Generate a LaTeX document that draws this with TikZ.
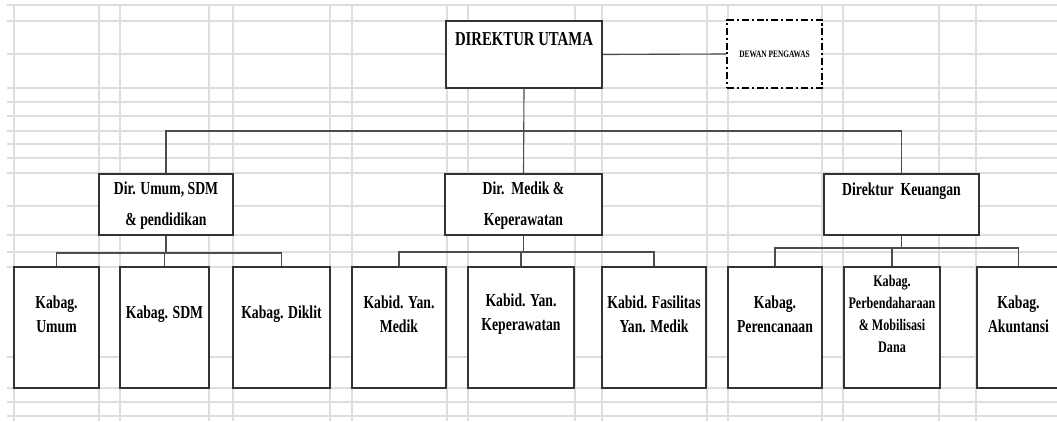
\documentclass[tikz,border=0pt]{standalone}
\usepackage{fontspec}
\setmainfont{Liberation Serif}[FakeStretch=0.75]
\usetikzlibrary{positioning}

\newcommand{\px}{0.025cm}

\tikzset{
  sheet/.style={black!13, line width=0.9pt},
  unit/.style 2 args={draw=black!80, line width=0.9pt, fill=white, inner sep=0pt,
    minimum width=#1*\px, minimum height=#2*\px},
  watch/.style={unit={95}{68}, draw=black, line width=1.4pt,
    dash pattern=on 5pt off 2pt on 1.5pt off 2pt},
  link/.style={draw=black!70, line width=0.8pt},
  tag/.style={align=center, inner sep=0pt, font=\bfseries\fontsize{13}{17}\selectfont},
}

\begin{document}
\begin{tikzpicture}[x=\px, y=-\px]
\useasboundingbox (0,0) rectangle (1057,421);

% spreadsheet cells behind the chart
\foreach \gx in {14,99,120,209,233,330,352,447,468,575,602,707,728,822,843,939,976}
  \draw[sheet] (\gx,4) -- (\gx,421);
\foreach \gy in {5,21,54,88,102,116,131,144,158,173,206,235,252,267,357,388,402,416}
  \draw[sheet] (7,\gy) -- (1057,\gy);

% bus levels
\coordinate (lvl1) at (0,131);
\coordinate (lvl2) at (0,253);
\coordinate (lvl3) at (0,252);
\coordinate (lvl4) at (0,248);

% top
\node[unit={156}{67}] (utama) at (524,54.5) {};
\node[tag, font=\bfseries\fontsize{14}{17}\selectfont] (utama-t) at (524,39) {DIREKTUR UTAMA};
\node[watch] (dewan) at (774.5,54) {};
\node[tag, font=\bfseries\fontsize{7}{8}\selectfont] (dewan-t) at (774.5,54) {DEWAN PENGAWAS};

% directors
\node[unit={134}{61}] (umum) at (166,204.5) {};
\node[tag, font=\bfseries\fontsize{13}{22}\selectfont] (umum-t) at (166,206) {Dir. Umum, SDM\\\& pendidikan};
\node[unit={157}{61}] (medik) at (523.5,204.5) {};
\node[tag, font=\bfseries\fontsize{13}{22}\selectfont] (medik-t) at (523.5,206) {Dir.\ \ Medik \&\\Keperawatan};
\node[unit={155}{61}] (keuangan) at (901.5,204.5) {};
\node[tag] (keuangan-t) at (901.5,191) {Direktur\ \ Keuangan};

% bagian / bidang
\node[unit={85}{121}] (kumum) at (56.5,327.5) {};
\node[tag] (kumum-t) at (56.5,314) {Kabag.\\Umum};
\node[unit={89}{121}] (ksdm) at (164.5,327.5) {};
\node[tag] (ksdm-t) at (164.5,314) {Kabag. SDM};
\node[unit={97}{121}] (kdiklit) at (281.5,327.5) {};
\node[tag] (kdiklit-t) at (281.5,314) {Kabag. Diklit};

\node[unit={94}{121}] (kmedik) at (399,327.5) {};
\node[tag] (kmedik-t) at (399,314) {Kabid. Yan.\\Medik};
\node[unit={106}{121}] (kperawat) at (521,327.5) {};
\node[tag] (kperawat-t) at (521,314) {Kabid. Yan.\\Keperawatan};
\node[unit={104}{121}] (kfasilitas) at (654,327.5) {};
\node[tag] (kfasilitas-t) at (654,314) {Kabid. Fasilitas\\Yan. Medik};

\node[unit={94}{121}] (krencana) at (775,327.5) {};
\node[tag] (krencana-t) at (775,314) {Kabag.\\Perencanaan};
\node[unit={96}{121}] (kbendahara) at (892,327.5) {};
\node[tag, font=\bfseries\fontsize{11.5}{15.6}\selectfont] (kbendahara-t) at (892,314) {Kabag.\\Perbendaharaan\\\& Mobilisasi\\Dana};
\node[unit={83}{121}] (kakuntansi) at (1018.5,327.5) {};
\node[tag] (kakuntansi-t) at (1018.5,314) {Kabag.\\Akuntansi};

% connectors
\draw[link] (utama.east) -- (dewan.west);
\draw[link] (utama.south) -- (medik.north);
\draw[link] (umum.north) |- (lvl1 -| keuangan.north) -- (keuangan.north);

\draw[link] (umum.south) -- (umum.south |- lvl2);
\draw[link] (kumum.north) |- (lvl2 -| kdiklit.north) -- (kdiklit.north);
\draw[link] (ksdm.north) -- (ksdm.north |- lvl2);

\draw[link] (medik.south) -- (medik.south |- lvl3);
\draw[link] (kmedik.north) |- (lvl3 -| kfasilitas.north) -- (kfasilitas.north);
\draw[link] (kperawat.north) -- (kperawat.north |- lvl3);

\draw[link] (keuangan.south) -- (keuangan.south |- lvl4);
\draw[link] (krencana.north) |- (lvl4 -| kakuntansi.north) -- (kakuntansi.north);
\draw[link] (kbendahara.north) -- (kbendahara.north |- lvl4);
\end{tikzpicture}
\end{document}
